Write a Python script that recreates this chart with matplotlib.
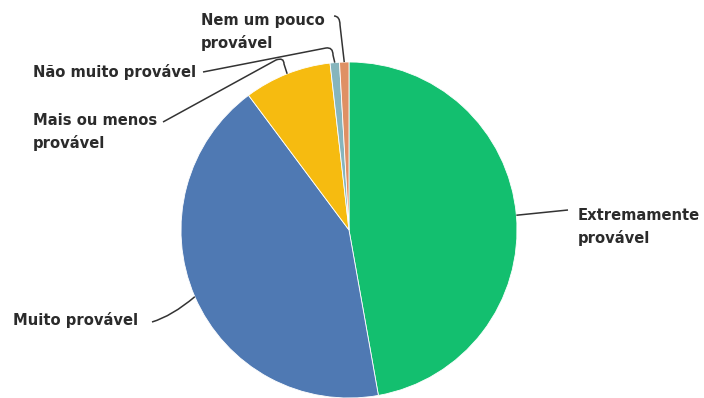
import numpy as np
import matplotlib
matplotlib.use("Agg")
import matplotlib.pyplot as plt
from matplotlib.path import Path
from matplotlib.patches import PathPatch

# survey answers, in clockwise order starting at 12 o'clock
labels = ["Extremamente\nprovável", "Muito provável", "Mais ou menos\nprovável",
          "Não muito provável", "Nem um pouco\nprovável"]
shares = [47.2, 42.6, 8.4, 0.9, 0.9]
colors = ["#13bf6f", "#4f79b3", "#f6bb10", "#86b5bd", "#df9064"]

W, H = 704, 398
cx, cy, R = 349, 168, 168   # pie centre and radius in pixel units (y up)

fig = plt.figure(figsize=(W / 100, H / 100), dpi=100)
ax = fig.add_axes([0, 0, 1, 1])

wedges, _ = ax.pie(shares, colors=colors, startangle=90, counterclock=False,
                   center=(cx, cy), radius=R, frame=True,
                   wedgeprops=dict(edgecolor="white", linewidth=0.6))
ax.set_xlim(0, W)
ax.set_ylim(0, H)
ax.set_aspect("equal")
ax.axis("off")


def edge_point(w):
    a = np.deg2rad((w.theta1 + w.theta2) / 2)
    return cx + R * np.cos(a), H - (cy + R * np.sin(a))


def leader(pts, codes):
    p = Path([(x, H - y) for x, y in pts], codes)
    ax.add_patch(PathPatch(p, fill=False, edgecolor="#333333", lw=1.1))


M, L, C = Path.MOVETO, Path.LINETO, Path.CURVE3
anchors = [edge_point(w) for w in wedges]  # top-down pixels

# leader lines from each label to its slice
leader([anchors[0], (568, 210)], [M, L])
leader([(152, 322), (172, 316), anchors[1]], [M, C, C])
leader([(163, 122), (276, 60), (284, 57), (284, 64), anchors[2]], [M, L, C, C, L])
leader([(203, 72), (326, 48), (333, 47), (333, 55), anchors[3]], [M, L, C, C, L])
leader([(334, 16), (340, 16), (340, 25), anchors[4]], [M, C, C, L])

tkw = dict(fontsize=10.6, color="#2b2b2b", va="center", ha="left",
           linespacing=1.55, fontweight="bold")
ax.text(578, H - 227, labels[0], **tkw)
ax.text(13, H - 320, labels[1], **tkw)
ax.text(33, H - 132, labels[2], **tkw)
ax.text(33, H - 72, labels[3], **tkw)
ax.text(201, H - 32, labels[4], **tkw)

fig.savefig("out.png", dpi=100, facecolor="white")
